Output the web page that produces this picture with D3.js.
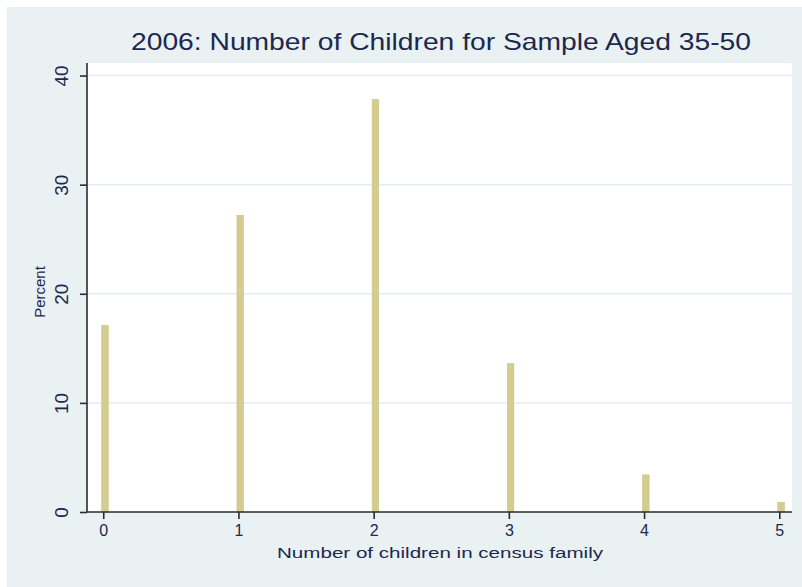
<!DOCTYPE html>
<html>
<head>
<meta charset="utf-8">
<script src="https://d3js.org/d3.v7.min.js"></script>
<style>
  body { margin: 0; background: #ffffff; }
  text { font-family: "Liberation Sans", Arial, sans-serif; fill: #1c2850; }
</style>
</head>
<body>
<div id="chart"></div>
<script>
// number of children (categories) and percent of sample
var children = [0, 1, 2, 3, 4, 5]
var percent = [17.1, 27.2, 37.8, 13.6, 3.4, 0.9]
var yTicks = [0, 10, 20, 30, 40]
var xTicks = [0, 1, 2, 3, 4, 5]

var W = 802, H = 587;

var svg = d3.select("#chart")
    .append("svg")
    .attr("width", W)
    .attr("height", H)

// outer (graph region) background
svg.append("rect")
    .attr("x", 7)
    .attr("y", 7)
    .attr("width", W - 7)
    .attr("height", H - 7)
    .style("fill", "#eaf1f3")

// plot region
var plot = {left: 87, right: 792, top: 63, bottom: 512}

svg.append("rect")
    .attr("x", plot.left)
    .attr("y", plot.top)
    .attr("width", plot.right - plot.left)
    .attr("height", plot.bottom - plot.top)
    .style("fill", "#ffffff")

var x = d3.scaleLinear()
    .domain([-0.12, 5.094])
    .range([plot.left, plot.right]);

var y = d3.scaleLinear()
    .domain([0, 41.15])
    .range([plot.bottom, plot.top]);

// gridlines
svg.selectAll("grid")
    .data(yTicks.filter(function(d){ return d > 0 }))
    .enter()
    .append("line")
        .attr("x1", plot.left)
        .attr("x2", plot.right)
        .attr("y1", function(d){ return y(d) })
        .attr("y2", function(d){ return y(d) })
        .style("stroke", "#e3edf1")
        .style("stroke-width", 1.5)

// bars (narrow spikes starting at each value)
svg.selectAll("bars")
    .data(children)
    .enter()
    .append("rect")
        .attr("x", function(d){ return x(d) - 1.5 })
        .attr("y", function(d, i){ return y(percent[i]) })
        .attr("width", 6.5)
        .attr("height", function(d, i){ return y(0) - y(percent[i]) })
        .style("fill", "#d5cd8f")
        .style("stroke", "#c9c07c")
        .style("stroke-width", 0.6)

// Y axis
var yAxis = svg.append("g")
    .attr("transform", "translate(" + plot.left + ",0)")
    .call(d3.axisLeft(y).tickValues(yTicks).tickSize(7).tickFormat(d3.format("d")))

yAxis.select(".domain")
    .attr("d", "M0," + plot.top + "V" + plot.bottom)
yAxis.selectAll("line, path")
    .style("stroke", "#2b2b2b")
    .style("stroke-width", 1.6)
// tick labels are rotated, reading bottom to top
yAxis.selectAll("text")
    .attr("x", null)
    .attr("dy", null)
    .attr("y", 0)
    .attr("transform", "translate(-19,0) rotate(-90)")
    .attr("text-anchor", "middle")
    .style("font-size", "19px")
    .style("fill", "#1c2850")
    .style("font-family", "Liberation Sans, Arial, sans-serif")

// X axis
var xAxis = svg.append("g")
    .attr("transform", "translate(0," + plot.bottom + ")")
    .call(d3.axisBottom(x).tickValues(xTicks).tickSize(7).tickFormat(d3.format("d")))

xAxis.select(".domain")
    .attr("d", "M" + plot.left + ",0H" + plot.right)
xAxis.selectAll("line, path")
    .style("stroke", "#2b2b2b")
    .style("stroke-width", 1.6)
xAxis.selectAll("text")
    .attr("y", 13)
    .attr("dy", "0.71em")
    .style("font-size", "16px")
    .style("fill", "#1c2850")
    .style("font-family", "Liberation Sans, Arial, sans-serif")

// title
svg.append("text")
    .attr("x", 441)
    .attr("y", 50)
    .attr("text-anchor", "middle")
    .attr("textLength", 620)
    .attr("lengthAdjust", "spacingAndGlyphs")
    .style("font-size", "24px")
    .text("2006: Number of Children for Sample Aged 35-50")

// X axis label
svg.append("text")
    .attr("x", 440)
    .attr("y", 558)
    .attr("text-anchor", "middle")
    .attr("textLength", 326)
    .attr("lengthAdjust", "spacingAndGlyphs")
    .style("font-size", "14px")
    .text("Number of children in census family")

// Y axis label
svg.append("text")
    .attr("transform", "translate(45,292) rotate(-90)")
    .attr("text-anchor", "middle")
    .style("font-size", "15px")
    .text("Percent")
</script>
</body>
</html>
